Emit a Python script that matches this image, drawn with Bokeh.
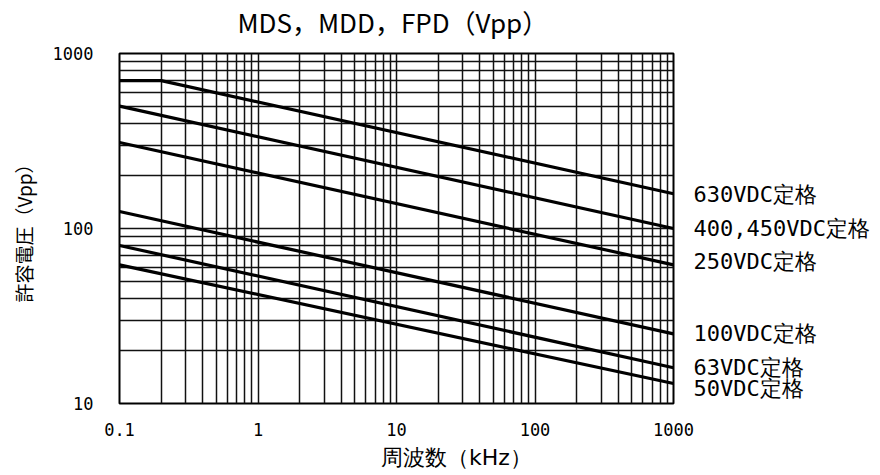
from bokeh.plotting import figure
from bokeh.models import FixedTicker, LogAxis, LinearAxis, Range1d, LinearScale
from bokeh.embed import file_html
from bokeh.resources import INLINE

# ---- data ----
series_names = ["630VDC定格", "400,450VDC定格", "250VDC定格", "100VDC定格", "63VDC定格", "50VDC定格"]
series_x = [
    [0.1, 0.2, 1000],
    [0.1, 1000],
    [0.1, 1000],
    [0.1, 1000],
    [0.1, 1000],
    [0.1, 1000],
]
series_y = [
    [700, 700, 158],
    [500, 100],
    [310, 62],
    [125, 25],
    [80, 16],
    [62, 13],
]
x_ticks = [0.1, 1, 10, 100, 1000]
x_tick_labels = ["0.1", "1", "10", "100", "1000"]
y_ticks = [10, 100, 1000]
y_tick_labels = ["10", "100", "1000"]
title_text = "MDS，MDD，FPD（Vpp）"
x_label_text = "周波数（kHz）"
y_label_text = "許容電圧（Vpp）"

MONO = "DejaVu Sans Mono"
SANS = "DejaVu Sans"
CJK = "Noto Sans CJK JP"

FRAME_W, FRAME_H = 554, 350
p = figure(width=880, height=475, x_axis_type="log", y_axis_type="log",
           x_range=(x_ticks[0], x_ticks[-1]), y_range=(y_ticks[0], y_ticks[-1]),
           output_backend="svg", toolbar_location=None,
           min_border_left=119, min_border_right=207, min_border_top=53, min_border_bottom=72)
p.background_fill_color = "white"
p.border_fill_color = "white"
p.outline_line_color = "black"
p.outline_line_width = 2

p.title.text = title_text
p.title.text_font = CJK
p.title.text_font_size = "26px"
p.title.text_font_style = "normal"
p.title.text_color = "black"
p.title.align = "left"
p.title.offset = 118
p.title.standoff = 0

# grid: every 1..9 multiple of each decade
grid_x = [d * m for d in x_ticks[:-1] for m in range(1, 10)] + [x_ticks[-1]]
grid_y = [d * m for d in y_ticks[:-1] for m in range(1, 10)] + [y_ticks[-1]]
p.xgrid.ticker = FixedTicker(ticks=grid_x)
p.ygrid.ticker = FixedTicker(ticks=grid_y)
for g in (p.xgrid, p.ygrid):
    g.grid_line_color = "#111111"
    g.grid_line_width = 1.5
    g.grid_line_alpha = 1.0


def plain_axis(ax):
    ax.axis_line_color = None
    ax.major_tick_line_color = None
    ax.minor_tick_line_color = None
    ax.major_tick_out = 0
    ax.major_tick_in = 0
    ax.major_label_text_color = "black"


for ax, ticks, labels in ((p.xaxis[0], x_ticks, x_tick_labels), (p.yaxis[0], y_ticks, y_tick_labels)):
    ax.ticker = FixedTicker(ticks=ticks)
    ax.major_label_overrides = dict(zip(ticks, labels))
    plain_axis(ax)
    ax.major_label_text_font = MONO
    ax.major_label_text_font_size = "17px"
p.xaxis[0].major_label_standoff = 19
p.yaxis[0].major_label_standoff = 26
p.yaxis[0].axis_label = y_label_text
p.yaxis[0].axis_label_text_font = CJK
p.yaxis[0].axis_label_text_font_size = "19px"
p.yaxis[0].axis_label_text_font_style = "normal"
p.yaxis[0].axis_label_text_color = "black"
p.yaxis[0].axis_label_standoff = 13

p.extra_x_ranges = {"lbl": Range1d(0, 1)}
p.extra_x_scales = {"lbl": LinearScale()}

# invisible spacer axis above the frame, lifting the title a little
spacer = LinearAxis(x_range_name="lbl", ticker=FixedTicker(ticks=[0.5]),
                    major_label_overrides={0.5: ""})
plain_axis(spacer)
spacer.major_tick_out = 14
spacer.major_label_standoff = 0
spacer.major_label_text_font_size = "1px"
p.add_layout(spacer, "above")

# x axis title placed right of centre (as in the reference) via a helper axis
xlabel_pos = (456 - 119) / FRAME_W
xl_axis = LinearAxis(x_range_name="lbl", ticker=FixedTicker(ticks=[xlabel_pos]),
                     major_label_overrides={xlabel_pos: x_label_text})
plain_axis(xl_axis)
xl_axis.major_label_text_font = SANS
xl_axis.major_label_text_font_size = "22px"
xl_axis.major_label_standoff = 6
p.add_layout(xl_axis, "below")

# series lines
for xs, ys in zip(series_x, series_y):
    p.line(xs, ys, line_color="black", line_width=3.2)

# series labels at the right end, via a right-hand axis
px_per_decade = FRAME_H / 2.0
label_nudge_px = [1, 0, -3, 0, 0, 5]  # positive = downwards
label_pos = [ys[-1] * 10 ** (-dy / px_per_decade) for ys, dy in zip(series_y, label_nudge_px)]
r_axis = LogAxis(ticker=FixedTicker(ticks=label_pos),
                 major_label_overrides=dict(zip(label_pos, series_names)))
plain_axis(r_axis)
r_axis.major_label_text_font = MONO
r_axis.major_label_text_font_size = "22px"
r_axis.major_label_standoff = 20
p.add_layout(r_axis, "right")

open("out.html", "w").write(file_html(p, INLINE))
